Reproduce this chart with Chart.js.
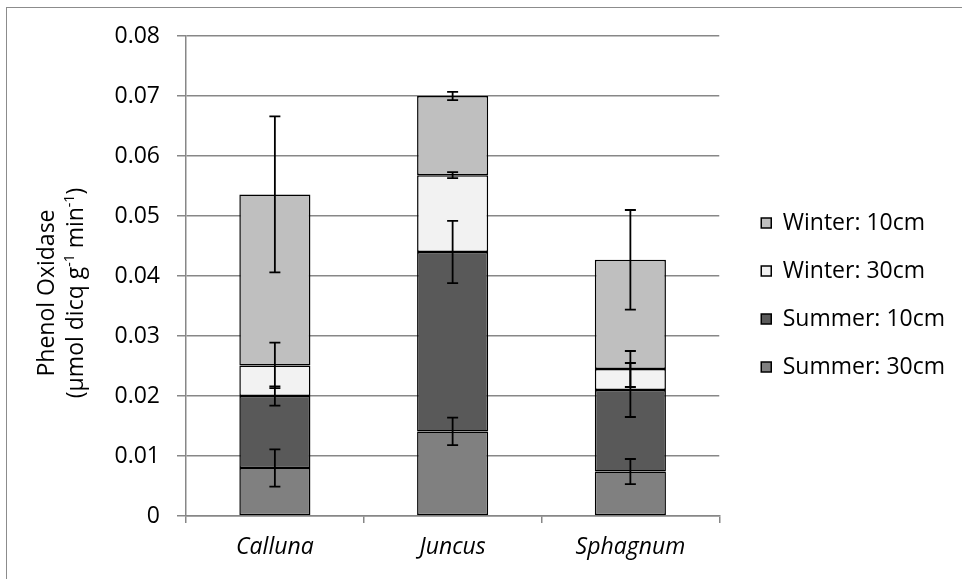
<!DOCTYPE html>
<html><head><meta charset="utf-8">
<script src="https://cdn.jsdelivr.net/npm/chart.js@4.4.0/dist/chart.umd.min.js"></script>
<style>
html,body{margin:0;padding:0;background:#fff;overflow:hidden;width:962px;height:579px;}
#frame{position:absolute;left:6px;top:7px;width:1200px;height:800px;border-top:1.5px solid #8c8c8c;border-left:1.5px solid #8c8c8c;}
#c{position:absolute;left:0;top:0;}
</style></head><body>
<div id="frame"></div>
<canvas id="c" width="962" height="579"></canvas>
<script>
const categories = ['Calluna', 'Juncus', 'Sphagnum'];
const seriesNames = ['Summer: 30cm', 'Summer: 10cm', 'Winter: 30cm', 'Winter: 10cm'];
const summer30 = [0.0080, 0.0141, 0.0074];
const summer10 = [0.0120, 0.0299, 0.0136];
const winter30 = [0.0051, 0.0128, 0.0035];
const winter10 = [0.0285, 0.0132, 0.0182];
const summer30Err = [0.0031, 0.0023, 0.0021];
const summer10Err = [0.0016, 0.0052, 0.0045];
const winter30Err = [0.0038, 0.0005, 0.0030];
const winter10Err = [0.0130, 0.0007, 0.0083];
const yTickLabels = ['0', '0.01', '0.02', '0.03', '0.04', '0.05', '0.06', '0.07', '0.08'];
const yTitleLine1 = 'Phenol Oxidase';
const yTitleLine2 = [['(\u00B5mol dicq g', false], ['-1', true], [' min', false], ['-1', true], [')', false]];

const FONT = 'Open Sans';
const GRID = '#878787';

const errorBarPlugin = {
  id: 'errorBars',
  afterDatasetsDraw(chart) {
    const ctx = chart.ctx;
    const ys = chart.scales.y;
    const cum = categories.map(() => 0);
    chart.data.datasets.forEach((ds, di) => {
      const meta = chart.getDatasetMeta(di);
      ds.data.forEach((v, j) => {
        cum[j] += v;
        const e = ds.errors[j];
        const x = meta.data[j].x;
        const yt = ys.getPixelForValue(cum[j] + e);
        const yb = ys.getPixelForValue(cum[j] - e);
        ctx.save();
        ctx.strokeStyle = '#000';
        ctx.lineWidth = 1.8;
        ctx.beginPath();
        ctx.moveTo(x, yt); ctx.lineTo(x, yb);
        ctx.moveTo(x - 5.5, yt); ctx.lineTo(x + 5.5, yt);
        ctx.moveTo(x - 5.5, yb); ctx.lineTo(x + 5.5, yb);
        ctx.stroke();
        ctx.restore();
      });
    });
  }
};

const yTitlePlugin = {
  id: 'yTitle',
  afterDraw(chart) {
    const ctx = chart.ctx;
    const yc = 293;
    ctx.save();
    ctx.fillStyle = '#000';
    ctx.textBaseline = 'alphabetic';
    ctx.save();
    ctx.translate(54, yc);
    ctx.rotate(-Math.PI / 2);
    ctx.font = '23px "' + FONT + '"';
    ctx.textAlign = 'center';
    ctx.fillText(yTitleLine1, 0, 0);
    ctx.restore();
    ctx.save();
    ctx.translate(83, yc);
    ctx.rotate(-Math.PI / 2);
    ctx.textAlign = 'left';
    const big = '23px "' + FONT + '"', small = '14px "' + FONT + '"';
    let total = 0;
    yTitleLine2.forEach(([t, sup]) => { ctx.font = sup ? small : big; total += ctx.measureText(t).width; });
    let x = -total / 2;
    yTitleLine2.forEach(([t, sup]) => {
      ctx.font = sup ? small : big;
      ctx.fillText(t, x, sup ? -9 : 0);
      x += ctx.measureText(t).width;
    });
    ctx.restore();
    ctx.restore();
  }
};

const mk = (label, data, errors, color) => ({
  label, data, errors,
  backgroundColor: color,
  borderColor: '#000',
  borderWidth: 1.5,
  borderSkipped: false,
  categoryPercentage: 0.4,
  barPercentage: 1.0
});

new Chart(document.getElementById('c'), {
  type: 'bar',
  data: {
    labels: categories,
    datasets: [
      mk(seriesNames[0], summer30, summer30Err, '#808080'),
      mk(seriesNames[1], summer10, summer10Err, '#595959'),
      mk(seriesNames[2], winter30, winter30Err, '#f2f2f2'),
      mk(seriesNames[3], winter10, winter10Err, '#bfbfbf')
    ]
  },
  plugins: [errorBarPlugin, yTitlePlugin],
  options: {
    responsive: false,
    animation: false,
    devicePixelRatio: 1,
    layout: { padding: { left: 0, right: 7, top: 11, bottom: 0 } },
    plugins: {
      legend: {
        position: 'right',
        reverse: true,
        maxWidth: 300,
        labels: { boxWidth: 10, boxHeight: 10, padding: 25, color: '#000', font: { family: FONT, size: 23 } }
      },
      tooltip: { enabled: false }
    },
    scales: {
      x: {
        stacked: true,
        grid: { display: true, offset: true, drawOnChartArea: false, drawTicks: true, tickLength: 7, color: GRID, lineWidth: 1.5 },
        border: { display: true, color: GRID, width: 1.5 },
        ticks: { color: '#000', padding: 11, font: { family: FONT, size: 23, style: 'italic' } },
        afterFit(s) { s.height = 63; }
      },
      xTop: {
        type: 'category',
        position: 'top',
        display: true,
        grid: { display: false },
        ticks: { display: false },
        border: { display: false },
        afterFit(s) { s.height = 25; }
      },
      y: {
        stacked: true,
        min: 0, max: 0.08,
        ticks: { stepSize: 0.01, padding: 17, color: '#000', font: { family: FONT, size: 23 }, callback: (v, i) => yTickLabels[i] },
        grid: { color: GRID, lineWidth: 1.5, drawTicks: true, tickLength: 9 },
        border: { display: true, color: GRID, width: 1.5 },
        afterFit(s) { s.width = 186; }
      },
      yR: {
        type: 'linear',
        position: 'right',
        display: true,
        grid: { display: false },
        ticks: { display: false },
        border: { display: false },
        afterFit(s) { s.width = 17; }
      }
    }
  }
});
</script>
</body></html>
